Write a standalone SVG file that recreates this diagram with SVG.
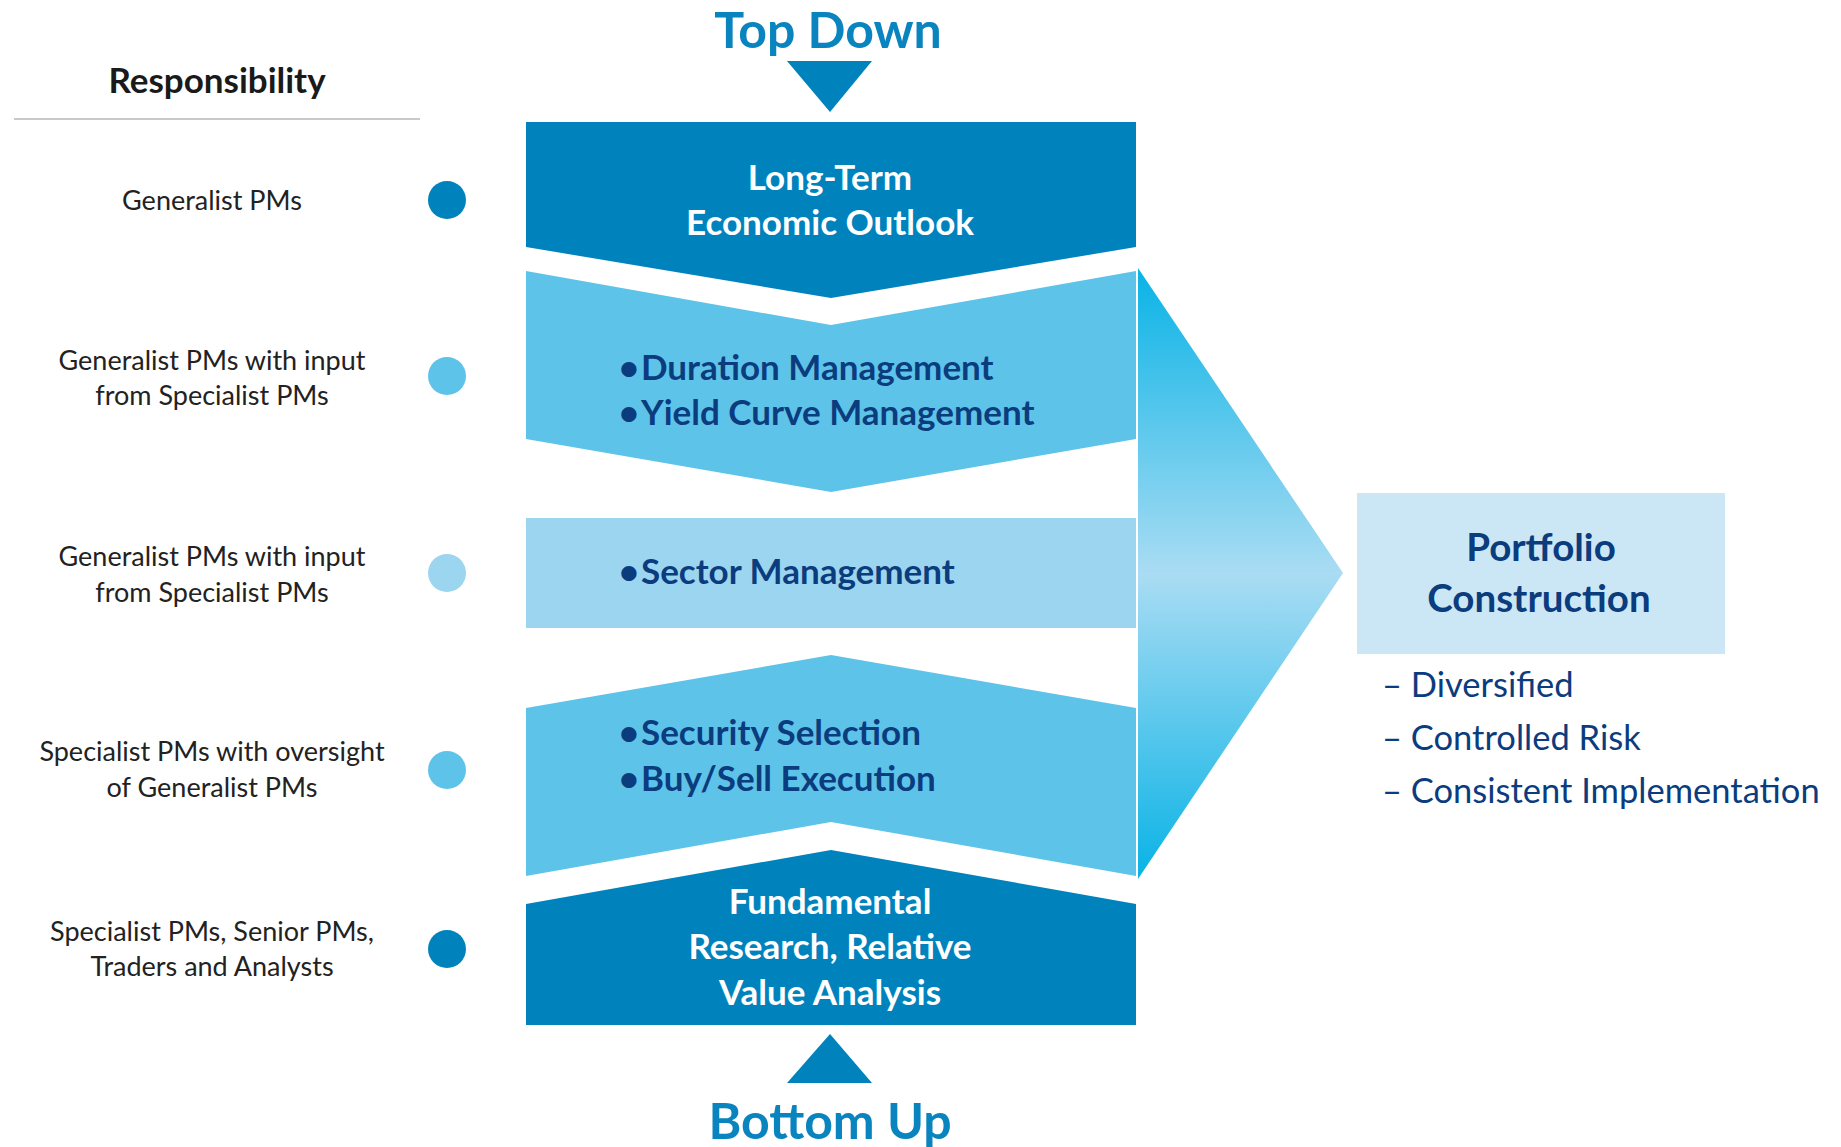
<svg xmlns="http://www.w3.org/2000/svg" width="1841" height="1147" viewBox="0 0 1841 1147">
<style>
.lbl{font-family:Lato,"Liberation Sans",sans-serif;font-size:27px;fill:#222;text-anchor:middle}
.box{font-family:Lato,"Liberation Sans",sans-serif;font-size:35px;font-weight:bold}
.wht{fill:#fff;text-anchor:middle}
.nav{fill:#0b3c7e}
.bul{text-anchor:middle}
.big{font-family:Lato,"Liberation Sans",sans-serif;font-size:50px;font-weight:bold;fill:#0a84bf;text-anchor:middle}
.lst{font-family:Lato,"Liberation Sans",sans-serif;font-size:34.5px;fill:#0b3c7e}
.pc{font-family:Lato,"Liberation Sans",sans-serif;font-size:38.5px;font-weight:bold;fill:#0b3c7e;text-anchor:middle}
.dark{fill:#0083bd}
.med{fill:#5ec3e9}
.lt{fill:#9bd5ef}
</style>
<defs>
<linearGradient id="tri" x1="0" y1="0" x2="0" y2="1">
<stop offset="0" stop-color="#08b3e6"/>
<stop offset="0.5" stop-color="#aadcf3"/>
<stop offset="1" stop-color="#08b3e6"/>
</linearGradient>
</defs>
<rect width="1841" height="1147" fill="#fff"/>
<g id="responsibility-header">
<text x="217" y="93" font-family="Lato,'Liberation Sans',sans-serif" font-size="35" font-weight="bold" fill="#1a1a1a" text-anchor="middle">Responsibility</text>
<line x1="14" y1="119" x2="420" y2="119" stroke="#c9c9c9" stroke-width="2"/>
</g>
<g id="resp-1"><text class="lbl" x="212" y="210">Generalist PMs</text><circle class="dark" cx="447" cy="200" r="19"/></g>
<g id="resp-2"><text class="lbl" x="212" y="370">Generalist PMs with input</text><text class="lbl" x="212" y="405">from Specialist PMs</text><circle class="med" cx="447" cy="376" r="19"/></g>
<g id="resp-3"><text class="lbl" x="212" y="566">Generalist PMs with input</text><text class="lbl" x="212" y="602">from Specialist PMs</text><circle class="lt" cx="447" cy="573" r="19"/></g>
<g id="resp-4"><text class="lbl" x="212" y="761">Specialist PMs with oversight</text><text class="lbl" x="212" y="797">of Generalist PMs</text><circle class="med" cx="447" cy="770" r="19"/></g>
<g id="resp-5"><text class="lbl" x="212" y="941">Specialist PMs, Senior PMs,</text><text class="lbl" x="212" y="976">Traders and Analysts</text><circle class="dark" cx="447" cy="949" r="19"/></g>

<g id="top-down"><text class="big" x="828" y="48">Top Down</text></g>
<g id="bottom-up"><text class="big" x="830" y="1139">Bottom Up</text></g>

<g id="connectors">
<polygon class="dark" points="787,61 872,61 830,112"/>
<polygon class="dark" points="787,1083 872,1083 830,1034"/>
<polygon fill="url(#tri)" points="1138,268 1343,573 1138,879"/>
</g>

<g id="long-term">
<polygon class="dark" points="526,122 1136,122 1136,247 831,298 526,247"/>
<text class="box wht" x="830" y="190">Long-Term</text>
<text class="box wht" x="830" y="235">Economic Outlook</text>
</g>
<g id="duration">
<polygon class="med" points="526,271 831,325 1136,271 1136,439 831,492 526,439"/>
<text class="box nav bul" x="629" y="380">•</text><text class="box nav" x="641" y="380">Duration Management</text>
<text class="box nav bul" x="629" y="425">•</text><text class="box nav" x="641" y="425">Yield Curve Management</text>
</g>
<g id="sector">
<rect class="lt" x="526" y="518" width="610" height="110"/>
<text class="box nav bul" x="629" y="584">•</text><text class="box nav" x="641" y="584">Sector Management</text>
</g>
<g id="security">
<polygon class="med" points="526,708 831,655 1136,708 1136,876 831,822 526,876"/>
<text class="box nav bul" x="629" y="745">•</text><text class="box nav" x="641" y="745">Security Selection</text>
<text class="box nav bul" x="629" y="791">•</text><text class="box nav" x="641" y="791">Buy/Sell Execution</text>
</g>
<g id="fundamental">
<polygon class="dark" points="526,904 831,850 1136,904 1136,1025 526,1025"/>
<text class="box wht" x="830" y="914">Fundamental</text>
<text class="box wht" x="830" y="959">Research, Relative</text>
<text class="box wht" x="830" y="1005">Value Analysis</text>
</g>
<g id="portfolio">
<rect x="1357" y="493" width="368" height="161" fill="#cbe7f5"/>
<text class="pc" x="1541" y="561">Portfolio</text>
<text class="pc" x="1539" y="612">Construction</text>
<text class="lst" x="1382" y="697">– Diversified</text>
<text class="lst" x="1382" y="750">– Controlled Risk</text>
<text class="lst" x="1382" y="803">– Consistent Implementation</text>
</g>
</svg>
